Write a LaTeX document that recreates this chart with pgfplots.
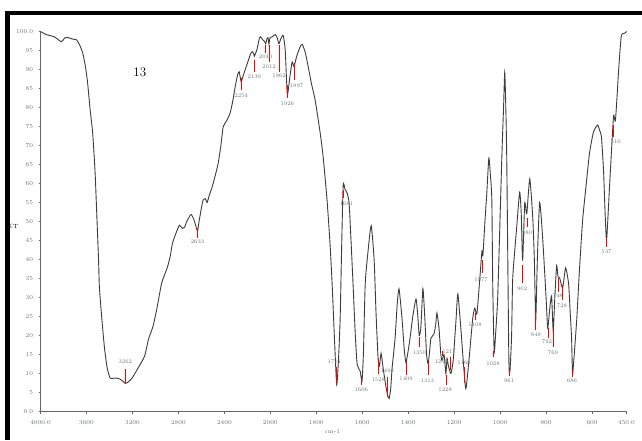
\documentclass[border=0pt]{standalone}
\usepackage{pgfplots}
\pgfplotsset{compat=1.18}
\definecolor{labgray}{RGB}{105,115,118}
\definecolor{curvegray}{RGB}{60,60,60}
\begin{document}
\begin{tikzpicture}
\path[use as bounding box] (0pt,0pt) rectangle (642pt,440pt);
\begin{axis}[
  at={(40.5pt,28.5pt)}, anchor=south west,
  scale only axis, width=586pt, height=380pt,
  x coord trafo/.code={\pgfmathparse{#1>2000?(4000-#1)/2:3000-#1}},
  xmin=4000, xmax=450, ymin=0, ymax=100,
  axis x line*=bottom, axis y line*=left,
  axis line style={gray!80!black, line width=0.6pt},
  xtick={4000,3600,3200,2800,2400,2000,1800,1600,1400,1200,1000,800,600,450},
  xticklabels={4000.0,3600,3200,2800,2400,2000,1800,1600,1400,1200,1000,800,600,450.0},
  ytick={0,5,10,15,20,25,30,35,40,45,50,55,60,65,70,75,80,85,90,95,100},
  yticklabels={0.0,5,10,15,20,25,30,35,40,45,50,55,60,65,70,75,80,85,90,95,100.0},
  tick align=outside, major tick length=2pt,
  tick style={gray!80!black, line width=0.5pt},
  tick label style={font=\fontsize{6}{7}\selectfont, text=labgray},
  xticklabel style={yshift=-3pt},
  yticklabel style={xshift=-2pt},
  clip=false,
]
\addplot[curvegray, line width=0.9pt, smooth, tension=0.35] table {
x y
4000 100
3950 99.2
3880 98.6
3817 97.3
3790 98.3
3760 98.4
3720 98.0
3686 97.8
3660 96.5
3633 94.4
3610 91
3590 86.5
3570 80
3546 73.3
3525 63
3513 54
3495 40
3487 32.5
3465 24
3443 16.7
3420 11.5
3395 8.8
3382 8.7
3340 8.8
3313 8.6
3285 8
3262 7.4
3235 7.8
3200 8.9
3150 11.5
3095 14.5
3060 19
3020 22.5
2991 26.5
2947 33.6
2920 36
2895 38
2870 41
2852 44.2
2820 47
2791 49
2765 48.2
2745 48.5
2730 49.8
2700 51.5
2686 51.8
2665 50.5
2645 48.5
2633 47.5
2620 50
2600 53.5
2585 55.6
2565 56
2550 55
2530 57
2507 59
2480 62
2454 65.3
2430 70
2410 74.9
2380 76.5
2349 78.6
2325 82
2306 85.4
2285 88.5
2271 89.4
2254 86.8
2240 88
2218 90
2190 92.5
2170 94.3
2157 94.7
2145 94.2
2139 93.5
2125 94.5
2114 95.5
2095 98.3
2085 98.6
2065 97.8
2050 97.4
2040 96.8
2030 98.0
2020 98.4
2012 96.7
2003 98.3
1990 98.7
1978 99.2
1970 98.3
1962 96.8
1955 98.0
1944 99.0
1935 95
1926 83.5
1915 88
1905 92
1897 90.8
1885 93.5
1870 96
1861 96.6
1848 94.5
1835 90.7
1820 86
1805 82
1783 73.3
1770 67
1753 55.6
1740 44
1731 33.6
1720 18
1711 7
1703 14
1696 24.6
1690 42
1683 59.5
1675 58.5
1666 57.5
1657 54.8
1648 44
1640 33.6
1630 20
1622 12.4
1609 10.6
1601 8
1595 15
1587 33.6
1575 42
1561 48.9
1548 39.7
1540 26
1531 14
1525 12
1518 15.3
1509 11.4
1498 7
1490 4.5
1483 3.4
1476 6
1470 11.4
1457 19.3
1448 28
1440 32.3
1427 24.6
1418 17
1410 12.9
1400 16
1392 19.3
1380 25
1366 29.6
1358 25
1352 20
1345 22
1336 32.3
1328 25
1320 15
1313 12.6
1305 17
1301 19.3
1288 20.4
1280 23
1275 25.9
1266 22
1258 15
1253 13.4
1244 15
1236 10
1231 14
1225 12
1214 10
1205 13
1201 15.9
1192 24
1184 30.9
1171 22
1158 11.4
1149 6
1136 13.2
1119 24.6
1110 27.2
1101 25.7
1088 35.2
1079 42.3
1075 41
1066 50
1058 57.4
1049 66.7
1042 62
1036 55.6
1032 33
1026 15.8
1020 20
1010 30.9
993 66
985 80
980 89.2
976 82
971 66
962 14
957 10.8
950 20
945 35.2
928 48.4
915 57.7
908 52
902 39.7
893 54.8
884 52
871 61.2
858 51
851 40
845 24
838 40
828 55
815 45.8
800 30
793 22
784 27
776 30.4
769 21.2
762 30
754 38.4
748 35.5
741 35.2
728 32.5
715 37.8
702 33.6
695 26
689 19.3
685 9.8
680 13
667 23.8
655 37
641 50.3
625 60
611 68
594 73.5
576 75.4
567 74
559 72.2
550 63.5
543 52
537 45
530 52
524 59
511 73.3
506 78
502 77
498 76.7
490 84
485 89.2
473 98.7
460 99.5
455 99.7
450 100
};
\addplot[red, line width=0.7pt] table {
x y
3262 7.5
3262 11.2

2633 48.3
2633 45.7

2254 87.8
2254 84.6

2139 92.5
2139 89.3

2040 96.4
2040 94.3

2012 96.4
2012 92.0

1962 96.4
1962 89.3

1926 86.0
1926 82.5

1897 91.7
1897 87.2

1681 58.3
1681 56.2

1711 11.7
1711 7.5

1606 8.0
1606 6.9

1528 14.1
1528 9.9

1492 9.1
1492 3.8

1409 13.0
1409 9.6

1350 19.6
1350 17.0

1313 12.8
1313 9.6

1250 15.8
1250 14.5

1217 14.3
1217 10.9

1232 9.6
1232 7.0

1157 11.7
1157 7.5

1108 25.9
1108 24.1

1077 39.9
1077 36.4

1028 15.8
1028 14.3

961 10.8
961 9.3

902 38.6
902 33.8

880 50.9
880 48.6

848 25.9
848 21.4

792 22.0
792 19.3

769 21.4
769 17.0

748 35.1
748 31.4

728 33.3
728 29.3

686 10.9
686 9.1

537 45.7
537 43.3

506 75.4
506 72.2
};
\tikzset{lbl/.style={font=\fontsize{5.5}{6}\selectfont, text=labgray, inner sep=0pt}}
\node[lbl] at (axis cs:3262,13.0) {3262};
\node[lbl] at (axis cs:2633,44.6) {2633};
\node[lbl] at (axis cs:2254,83.0) {2254};
\node[lbl] at (axis cs:2139,88.0) {2139};
\node[lbl] at (axis cs:2040,93.3) {2040};
\node[lbl] at (axis cs:2012,90.7) {2012};
\node[lbl] at (axis cs:1962,88.3) {1962};
\node[lbl] at (axis cs:1926,81.0) {1926};
\node[lbl] at (axis cs:1886,85.7) {1897};
\node[lbl] at (axis cs:1669,54.6) {1681};
\node[lbl] at (axis cs:1721,13.0) {1711};
\node[lbl] at (axis cs:1604,5.7) {1606};
\node[lbl] at (axis cs:1530,8.3) {1528};
\node[lbl] at (axis cs:1491,10.7) {1498};
\node[lbl] at (axis cs:1409,8.6) {1409};
\node[lbl] at (axis cs:1352,15.4) {1350};
\node[lbl] at (axis cs:1317,8.0) {1313};
\node[lbl] at (axis cs:1256,13.0) {1250};
\node[lbl] at (axis cs:1222,15.7) {1217};
\node[lbl] at (axis cs:1239,5.7) {1228};
\node[lbl] at (axis cs:1157,12.8) {1160};
\node[lbl] at (axis cs:1109,22.8) {1108};
\node[lbl] at (axis cs:1083,34.6) {1077};
\node[lbl] at (axis cs:1031,12.5) {1028};
\node[lbl] at (axis cs:961,8.0) {961};
\node[lbl] at (axis cs:904,32.2) {902};
\node[lbl] at (axis cs:883,47.0) {880};
\node[lbl] at (axis cs:844,20.1) {848};
\node[lbl] at (axis cs:796,18.3) {792};
\node[lbl] at (axis cs:770,15.4) {769};
\node[lbl] at (axis cs:749,30.4) {748};
\node[lbl] at (axis cs:731,27.8) {728};
\node[lbl] at (axis cs:687,8.0) {686};
\node[lbl] at (axis cs:537,42.0) {537};
\node[lbl] at (axis cs:497,70.9) {510};
\node[font=\fontsize{13}{15}\selectfont] at (axis cs:3136,89.3) {13};
\node[font=\fontsize{6}{7}\selectfont, text=labgray] at (axis cs:1730,-5.4) {cm-1};
\node[font=\fontsize{6}{7}\selectfont, text=black] at (rel axis cs:-0.048,0.486) {\%T};
\end{axis}
\fill[black] (5pt,0pt) rectangle (10pt,429pt);
\fill[black] (5pt,425pt) rectangle (642pt,429pt);
\end{tikzpicture}
\end{document}
